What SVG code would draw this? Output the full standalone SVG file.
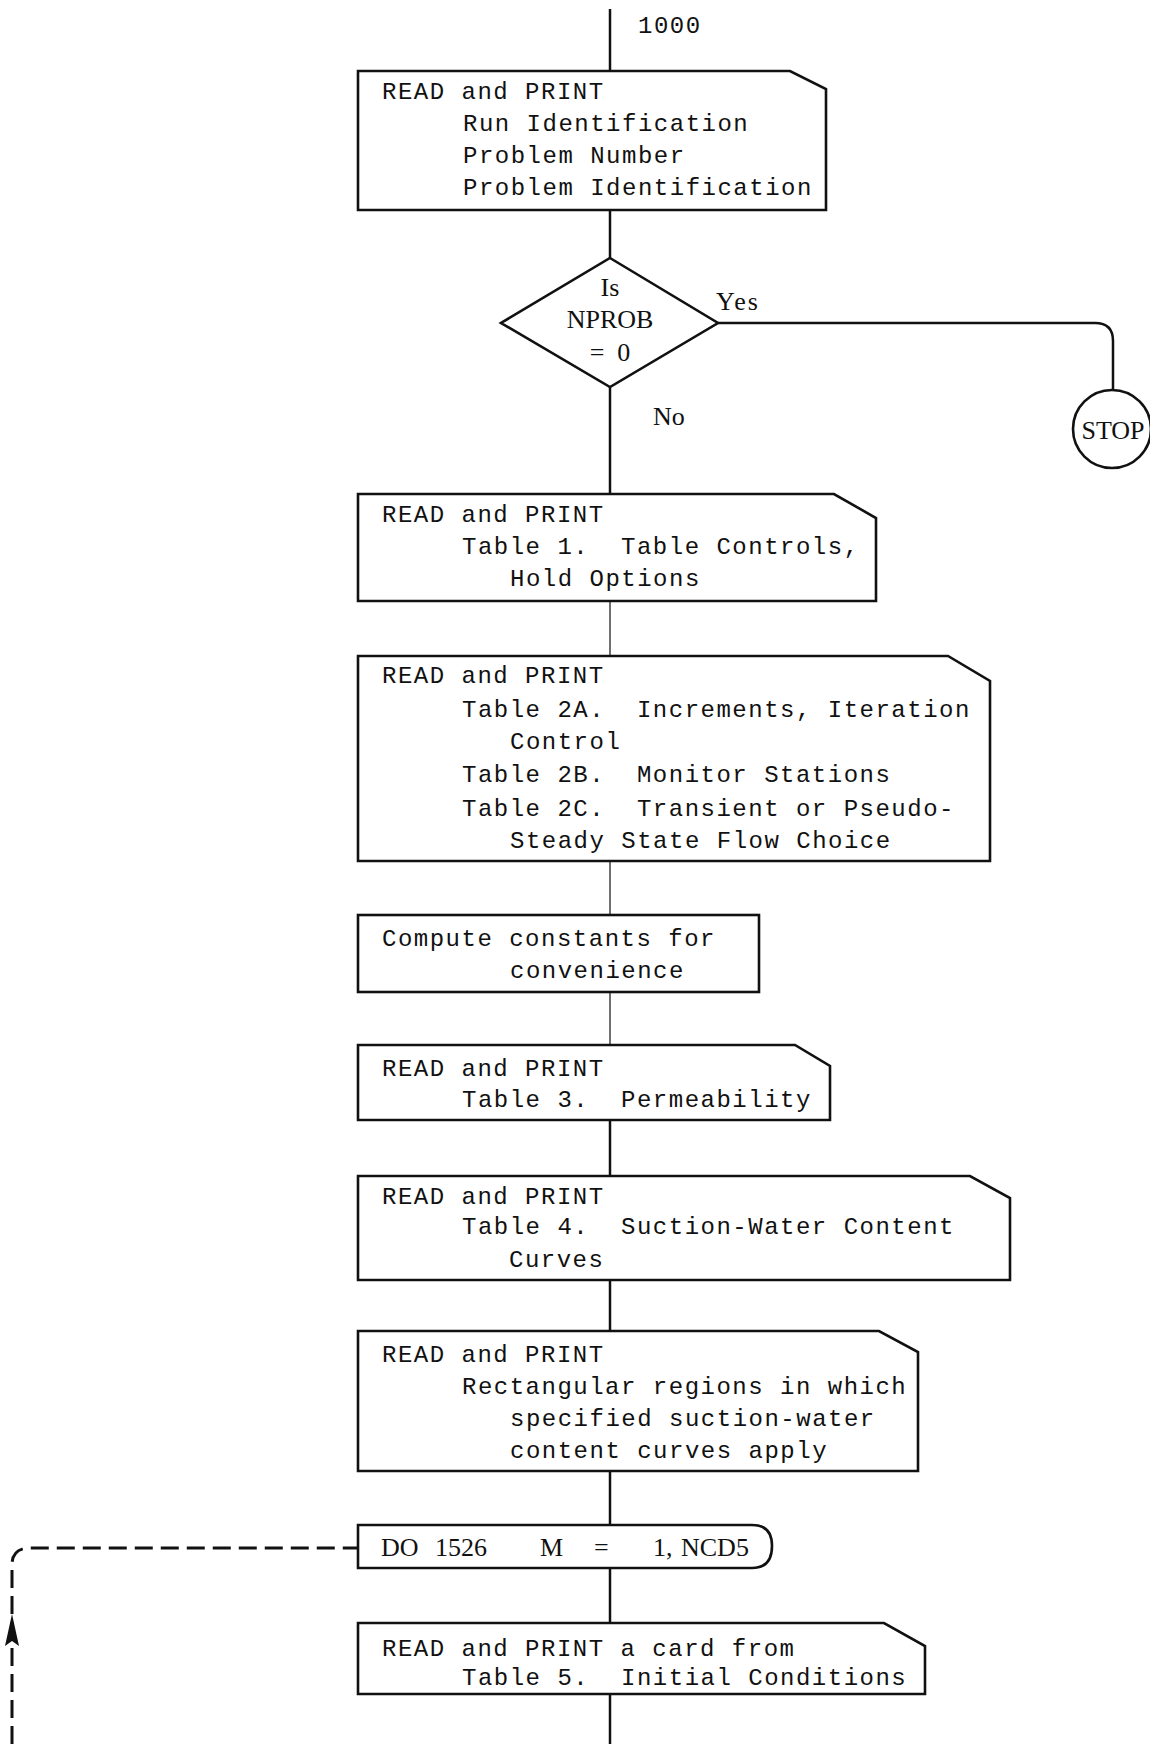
<svg xmlns="http://www.w3.org/2000/svg" width="1150" height="1744" viewBox="0 0 1150 1744">
<style>
.box{fill:#fff;stroke:#111;stroke-width:2.6;stroke-linejoin:miter}
.ln{fill:none;stroke:#111;stroke-width:2.5}
.thin{fill:none;stroke:#222;stroke-width:1.3}
.dash{fill:none;stroke:#111;stroke-width:3;stroke-dasharray:18 8}
.m{font-family:"Liberation Mono","DejaVu Sans Mono",monospace;font-size:24px;letter-spacing:1.5px;fill:#111}
.s{font-family:"Liberation Serif","DejaVu Serif",serif;font-size:26px;fill:#111}
</style>
<rect width="1150" height="1744" fill="#fff"/>
<g id="connectors">
<line class="ln" x1="610" y1="9" x2="610" y2="71"/>
<line class="ln" x1="610" y1="210" x2="610" y2="258"/>
<path class="ln" d="M718 323 H1095 Q1113 323 1113 341 V390" stroke-width="3"/>
<line class="ln" x1="610" y1="387" x2="610" y2="494"/>
<line class="thin" x1="610" y1="601" x2="610" y2="656"/>
<line class="thin" x1="610" y1="861" x2="610" y2="915"/>
<line class="thin" x1="610" y1="992" x2="610" y2="1045"/>
<line class="ln" x1="610" y1="1120" x2="610" y2="1176"/>
<line class="ln" x1="610" y1="1280" x2="610" y2="1331"/>
<line class="ln" x1="610" y1="1471" x2="610" y2="1525"/>
<line class="ln" x1="610" y1="1568" x2="610" y2="1623"/>
<line class="ln" x1="610" y1="1692" x2="610" y2="1744"/>
<path class="dash" d="M12 1744 V1565 Q12 1548 30 1548 H358"/>
<path d="M12 1614 L5 1646 L12 1641 L19 1646 Z" fill="#111"/>
<text class="m" x="638" y="33">1000</text>
<text class="s" x="716" y="310" letter-spacing="2">Yes</text>
<text class="s" x="653" y="425">No</text>
</g>
<g id="n1">
<path class="box" d="M358 71 H790 L826 89 V210 H358 Z"/>
<text class="m" x="382" y="99">READ and PRINT</text>
<text class="m" x="463" y="131">Run Identification</text>
<text class="m" x="463" y="163">Problem Number</text>
<text class="m" x="463" y="195">Problem Identification</text>
</g>
<g id="decision">
<path class="box" d="M610 258 L718 323 L610 387 L501 323 Z"/>
<text class="s" x="610" y="296" text-anchor="middle">Is</text>
<text class="s" x="610" y="328" text-anchor="middle">NPROB</text>
<text class="s" x="610" y="361" text-anchor="middle" xml:space="preserve">=  0</text>
</g>
<g id="stop">
<circle class="box" cx="1112" cy="429" r="39"/>
<text class="s" x="1113" y="439" text-anchor="middle">STOP</text>
</g>
<g id="n2">
<path class="box" d="M358 494 H834 L876 518 V601 H358 Z"/>
<text class="m" x="382" y="522">READ and PRINT</text>
<text class="m" x="462" y="554" xml:space="preserve">Table 1.  Table Controls,</text>
<text class="m" x="510" y="586">Hold Options</text>
</g>
<g id="n3">
<path class="box" d="M358 656 H948 L990 681 V861 H358 Z"/>
<text class="m" x="382" y="683">READ and PRINT</text>
<text class="m" x="462" y="717" xml:space="preserve">Table 2A.  Increments, Iteration</text>
<text class="m" x="510" y="749">Control</text>
<text class="m" x="462" y="782" xml:space="preserve">Table 2B.  Monitor Stations</text>
<text class="m" x="462" y="816" xml:space="preserve">Table 2C.  Transient or Pseudo-</text>
<text class="m" x="510" y="848">Steady State Flow Choice</text>
</g>
<g id="n4">
<rect class="box" x="358" y="915" width="401" height="77"/>
<text class="m" x="382" y="946">Compute constants for</text>
<text class="m" x="510" y="978">convenience</text>
</g>
<g id="n5">
<path class="box" d="M358 1045 H795 L830 1066 V1120 H358 Z"/>
<text class="m" x="382" y="1076">READ and PRINT</text>
<text class="m" x="462" y="1107" xml:space="preserve">Table 3.  Permeability</text>
</g>
<g id="n6">
<path class="box" d="M358 1176 H970 L1010 1198 V1280 H358 Z"/>
<text class="m" x="382" y="1204">READ and PRINT</text>
<text class="m" x="462" y="1234" xml:space="preserve">Table 4.  Suction-Water Content</text>
<text class="m" x="509" y="1267">Curves</text>
</g>
<g id="n7">
<path class="box" d="M358 1331 H879 L918 1352 V1471 H358 Z"/>
<text class="m" x="382" y="1362">READ and PRINT</text>
<text class="m" x="462" y="1394">Rectangular regions in which</text>
<text class="m" x="510" y="1426">specified suction-water</text>
<text class="m" x="510" y="1458">content curves apply</text>
</g>
<g id="loop">
<path class="box" d="M358 1525 H752 Q772 1525 772 1546 Q772 1568 752 1568 H358 Z"/>
<text class="s" y="1556" font-size="25"><tspan x="381">DO</tspan><tspan x="435">1526</tspan><tspan x="540">M</tspan><tspan x="594">=</tspan><tspan x="653">1,</tspan><tspan x="681">NCD5</tspan></text>
</g>
<g id="n8">
<path class="box" d="M358 1623 H884 L925 1646 V1694 H358 Z"/>
<text class="m" x="382" y="1656">READ and PRINT a card from</text>
<text class="m" x="462" y="1685" xml:space="preserve">Table 5.  Initial Conditions</text>
</g>
</svg>
